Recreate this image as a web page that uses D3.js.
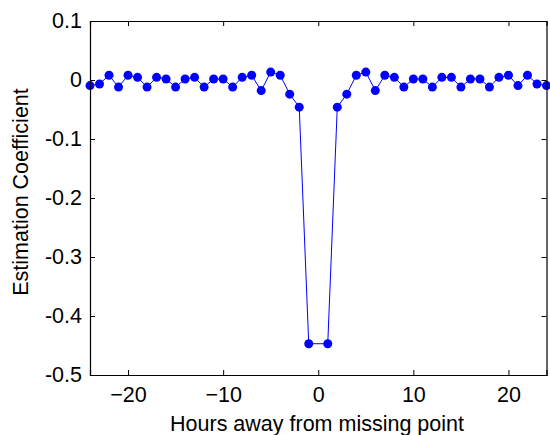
<!DOCTYPE html>
<html><head><meta charset="utf-8">
<script src="https://cdn.jsdelivr.net/npm/d3@7"></script>
<style>body{margin:0;background:#fff}svg{display:block}text{font-family:"Liberation Sans",Arial,sans-serif;fill:#000}</style>
</head><body><svg id="c" width="550" height="435"></svg>
<script>
const hours = [-24,-23,-22,-21,-20,-19,-18,-17,-16,-15,-14,-13,-12,-11,-10,-9,-8,-7,-6,-5,-4,-3,-2,-1,
  1,2,3,4,5,6,7,8,9,10,11,12,13,14,15,16,17,18,19,20,21,22,23,24];
const coeff = [-0.0095,-0.0067,0.008,-0.012,0.008,0.0045,-0.012,0.0045,0.0017,-0.012,0.0017,0.0045,-0.012,0.0017,0.0017,-0.012,0.0045,0.008,-0.018,0.0134,0.008,-0.024,-0.046,-0.447,
  -0.447,-0.046,-0.024,0.008,0.0134,-0.018,0.008,0.0045,-0.012,0.0017,0.0017,-0.012,0.0045,0.0045,-0.012,0.0017,0.0017,-0.012,0.0045,0.008,-0.0095,0.008,-0.0067,-0.0095];
const xTicks = [-20,-10,0,10,20];
const yTicks = [0.1,0,-0.1,-0.2,-0.3,-0.4,-0.5];
const xLabel = "Hours away from missing point";
const yLabel = "Estimation Coefficient";

const L=90, R=546.5, T=21, B=375;
const svg = d3.select("#c");
const x = d3.scaleLinear().domain([-24,24]).range([L,R]);
const y = d3.scaleLinear().domain([-0.5,0.1]).range([B,T]);
const fs = 21.5;
const tl = 5;

const g = svg.append("g");
const data = hours.map((h,i)=>({h, v:coeff[i]}));
g.append("path").datum(data)
  .attr("fill","none").attr("stroke","#0000ff").attr("stroke-width",1)
  .attr("d", d3.line().x(d=>x(d.h)).y(d=>y(d.v)));
g.selectAll("circle").data(data).join("circle")
  .attr("cx",d=>x(d.h)).attr("cy",d=>y(d.v)).attr("r",4.5).attr("fill","#0000ff");

const ax = svg.append("g");
ax.append("g").attr("transform",`translate(0,${B})`)
  .call(d3.axisBottom(x).tickValues(xTicks).tickSize(-tl).tickPadding(12).tickFormat(d3.format("d")));
ax.append("g").attr("transform",`translate(0,${T})`)
  .call(d3.axisTop(x).tickValues(xTicks).tickSize(-tl).tickFormat(""));
ax.append("g").attr("transform",`translate(${L},0)`)
  .call(d3.axisLeft(y).tickValues(yTicks).tickSize(-tl).tickPadding(8).tickFormat(d=>String(+d.toFixed(1))));
ax.append("g").attr("transform",`translate(${R},0)`)
  .call(d3.axisRight(y).tickValues(yTicks).tickSize(-tl).tickFormat(""));
ax.selectAll(".domain").attr("stroke","#000").attr("stroke-width",1.2);
ax.selectAll(".tick line").attr("stroke","#000");
ax.selectAll(".tick text").attr("font-size",fs).attr("font-family",'"Liberation Sans",Arial,sans-serif').attr("fill","#000");

svg.append("text").attr("x",317).attr("y",431).attr("text-anchor","middle")
  .attr("font-size",fs).text(xLabel);
svg.append("text").attr("transform",`translate(28,192) rotate(-90)`).attr("text-anchor","middle")
  .attr("font-size",fs).text(yLabel);
</script></body></html>
